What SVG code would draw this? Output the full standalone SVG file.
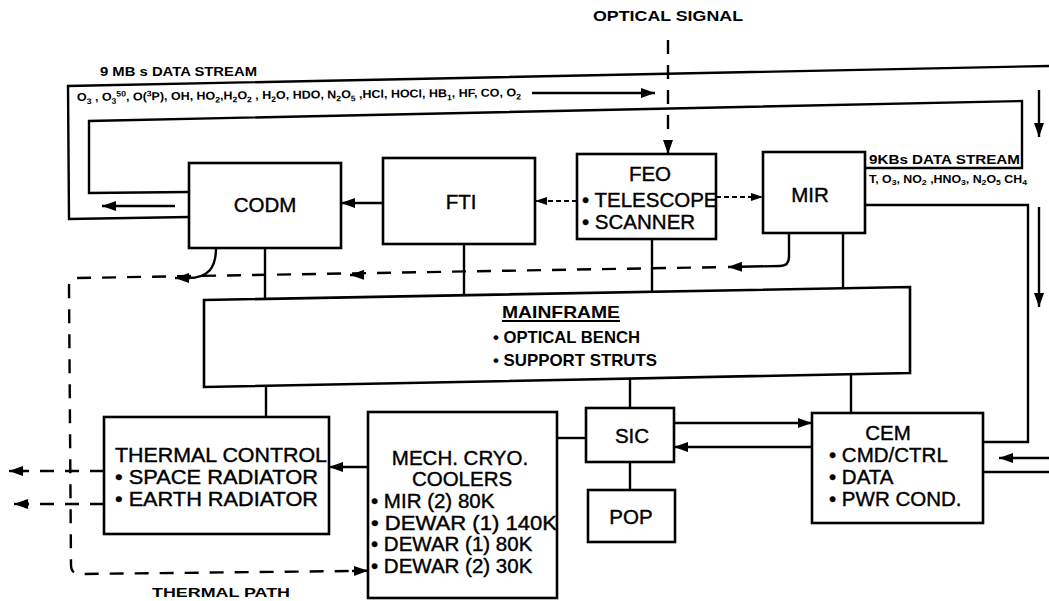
<svg xmlns="http://www.w3.org/2000/svg" width="1049" height="601" viewBox="0 0 1049 601">
<defs>
<marker id="ah" viewBox="0 0 14 10" refX="14" refY="5" markerWidth="14" markerHeight="10" markerUnits="userSpaceOnUse" orient="auto"><path d="M0,0 L14,5 L0,10 z" fill="#000"/></marker>
<marker id="ahs" viewBox="0 0 12 8" refX="12" refY="4" markerWidth="12" markerHeight="8" markerUnits="userSpaceOnUse" orient="auto"><path d="M0,0 L12,4 L0,8 z" fill="#000"/></marker>
</defs>
<style>
.bx{fill:#fff;stroke:#000;stroke-width:2.6}
.ln{fill:none;stroke:#000;stroke-width:2.4}
.ds{fill:none;stroke:#000;stroke-width:2.4;stroke-dasharray:14 11}
.dt{fill:none;stroke:#000;stroke-width:1.8;stroke-dasharray:5 3}
.t{font-family:"Liberation Sans",Arial,sans-serif;font-size:20.5px;fill:#000;stroke:#000;stroke-width:0.4}
.tb{font-family:"Liberation Sans",Arial,sans-serif;font-weight:bold;fill:#000}
.mid{text-anchor:middle}
</style>
<rect width="1049" height="601" fill="#fff"/>

<g id="connectors">
<!-- top data stream channel -->
<path class="ln" d="M189,217 L69,219 L68,86 L1049,66"/>
<path class="ln" d="M189,192 L89,193 L89,121 L1022,101 L1022,168 L865,168"/>
<path class="ln" d="M865,205 L1028,205 L1028,442 L983,442"/>
<path class="ln" d="M983,472 L1049,472"/>
<path class="ln" d="M175,206 L102,206" marker-end="url(#ah)"/>
<path class="ln" d="M532,93 L655,93" marker-end="url(#ah)"/>
<path class="ln" d="M1039,90 L1039,137" marker-end="url(#ah)"/>
<path class="ln" d="M1039,207 L1039,307" marker-end="url(#ah)"/>
<path class="ln" d="M1049,458 L999,458" marker-end="url(#ah)"/>
<!-- optical signal -->
<path class="ds" d="M668,40 L668,154" stroke-dasharray="15 11" marker-end="url(#ah)"/>
<!-- box to box -->
<path class="dt" d="M577,201 L535,201" marker-end="url(#ahs)"/>
<path class="dt" d="M716,197 L763,197" marker-end="url(#ahs)"/>
<path class="ln" d="M383,203 L341,203" marker-end="url(#ah)"/>
<path class="ln" d="M368,467 L329,467" marker-end="url(#ah)"/>
<path class="ln" d="M674,423 L812,423" marker-end="url(#ah)"/>
<path class="ln" d="M812,447 L674,447" marker-end="url(#ah)"/>
<!-- mainframe struts -->
<path class="ln" d="M265,248 L265,299"/>
<path class="ln" d="M464,244 L464,295"/>
<path class="ln" d="M652,239 L652,292"/>
<path class="ln" d="M843,233 L843,288"/>
<path class="ln" d="M266,386 L266,417"/>
<path class="ln" d="M630,379 L630,408"/>
<path class="ln" d="M851,374 L851,413"/>
<path class="ln" d="M557,438 L586,438"/>
<path class="ln" d="M630,462 L630,490"/>
<!-- thermal path -->
<path class="ln" d="M789,233 L789,257 Q789,266 780,266 L728,267" marker-end="url(#ah)"/>
<path class="ds" d="M716,267.2 L77,278 Q69,278 69,287 L71,565 Q71,574 80,574 L352,571"/>
<path class="ln" d="M364,274.8 L350,275" marker-end="url(#ah)"/>
<path class="ln" d="M352,571 L368,570.8" marker-end="url(#ah)"/>
<path class="ln" d="M216,248 C216,268 208,278 188,278" />
<path class="ln" d="M190,278 L175,278" marker-end="url(#ah)"/>
<path class="ds" d="M104,471 L22,471" stroke-dasharray="13 14"/>
<path class="ln" d="M24,471 L9,471" marker-end="url(#ah)"/>
<path class="ds" d="M104,504 L27,504" stroke-dasharray="13 14"/>
<path class="ln" d="M29,504 L14,504" marker-end="url(#ah)"/>
</g>

<g id="labels">
<text class="tb" x="593" y="21" font-size="14" textLength="150" lengthAdjust="spacingAndGlyphs">OPTICAL SIGNAL</text>
<text class="tb" x="100" y="76" font-size="13" textLength="157" lengthAdjust="spacingAndGlyphs">9 MB s DATA STREAM</text>
<text class="tb" x="77" y="101" font-size="11.5" textLength="444" lengthAdjust="spacingAndGlyphs" transform="rotate(-0.6 77 101)">O<tspan font-size="8" dy="3">3</tspan><tspan dy="-3"> , O</tspan><tspan font-size="8" dy="3">3</tspan><tspan font-size="8" dy="-7">50</tspan><tspan dy="4">, O(</tspan><tspan font-size="8" dy="-4">3</tspan><tspan dy="4">P), OH, HO</tspan><tspan font-size="8" dy="3">2</tspan><tspan dy="-3">,H</tspan><tspan font-size="8" dy="3">2</tspan><tspan dy="-3">O</tspan><tspan font-size="8" dy="3">2</tspan><tspan dy="-3"> , H</tspan><tspan font-size="8" dy="3">2</tspan><tspan dy="-3">O, HDO, N</tspan><tspan font-size="8" dy="3">2</tspan><tspan dy="-3">O</tspan><tspan font-size="8" dy="3">5</tspan><tspan dy="-3"> ,HCl, HOCl, HB</tspan><tspan font-size="8" dy="3">1</tspan><tspan dy="-3">, HF, CO, O</tspan><tspan font-size="8" dy="3">2</tspan></text>
<text class="tb" x="869" y="164" font-size="12" textLength="151" lengthAdjust="spacingAndGlyphs">9KBs DATA STREAM</text>
<text class="tb" x="869" y="183" font-size="10" textLength="158" lengthAdjust="spacingAndGlyphs">T, O<tspan font-size="7" dy="2">3</tspan><tspan dy="-2">, NO</tspan><tspan font-size="7" dy="2">2</tspan><tspan dy="-2"> ,HNO</tspan><tspan font-size="7" dy="2">3</tspan><tspan dy="-2">, N</tspan><tspan font-size="7" dy="2">2</tspan><tspan dy="-2">O</tspan><tspan font-size="7" dy="2">5</tspan><tspan dy="-2"> CH</tspan><tspan font-size="7" dy="2">4</tspan></text>
<text class="tb" x="152" y="597" font-size="13" textLength="138" lengthAdjust="spacingAndGlyphs">THERMAL PATH</text>
</g>

<g id="codm"><rect class="bx" x="189" y="163" width="152" height="85"/><text class="t mid" x="265" y="212">CODM</text></g>
<g id="fti"><rect class="bx" x="383" y="158" width="152" height="86"/><text class="t mid" x="461" y="209">FTI</text></g>
<g id="feo"><rect class="bx" x="577" y="154" width="139" height="85"/>
<text class="t mid" x="650" y="181">FEO</text>
<text class="t" x="582" y="207">• TELESCOPE</text>
<text class="t" x="582" y="229">• SCANNER</text></g>
<g id="mir"><rect class="bx" x="763" y="152" width="102" height="81"/><text class="t mid" x="810" y="202">MIR</text></g>
<g id="mainframe"><path class="bx" d="M204,300 L910,287 L910,373 L204,387 Z"/>
<text class="tb" x="502" y="318" font-size="17" textLength="118" lengthAdjust="spacingAndGlyphs">MAINFRAME</text>
<line x1="502" y1="321" x2="620" y2="321" stroke="#000" stroke-width="1.8"/>
<text class="tb" x="493" y="343" font-size="17" textLength="147" lengthAdjust="spacingAndGlyphs">• OPTICAL BENCH</text>
<text class="tb" x="493" y="366" font-size="17" textLength="164" lengthAdjust="spacingAndGlyphs">• SUPPORT STRUTS</text></g>
<g id="thermal-control"><rect class="bx" x="104" y="417" width="225" height="117"/>
<text class="t" x="115" y="462" textLength="212" lengthAdjust="spacingAndGlyphs">THERMAL CONTROL</text>
<text class="t" x="115" y="484" textLength="203" lengthAdjust="spacingAndGlyphs">• SPACE RADIATOR</text>
<text class="t" x="115" y="506" textLength="203" lengthAdjust="spacingAndGlyphs">• EARTH RADIATOR</text></g>
<g id="mech-cryo"><rect class="bx" x="368" y="412" width="189" height="186"/>
<text class="t mid" x="460" y="465">MECH. CRYO.</text>
<text class="t mid" x="462" y="486">COOLERS</text>
<text class="t" x="371" y="508">• MIR (2) 80K</text>
<text class="t" x="371" y="530" textLength="186" lengthAdjust="spacingAndGlyphs">• DEWAR (1) 140K</text>
<text class="t" x="371" y="551">• DEWAR (1) 80K</text>
<text class="t" x="371" y="573">• DEWAR (2) 30K</text></g>
<g id="sic"><rect class="bx" x="586" y="408" width="88" height="54"/><text class="t mid" x="632" y="443">SIC</text></g>
<g id="pop"><rect class="bx" x="588" y="490" width="87" height="52"/><text class="t mid" x="631" y="524">POP</text></g>
<g id="cem"><rect class="bx" x="812" y="413" width="171" height="110"/>
<text class="t mid" x="888" y="440">CEM</text>
<text class="t" x="829" y="462">• CMD/CTRL</text>
<text class="t" x="829" y="484">• DATA</text>
<text class="t" x="829" y="506">• PWR COND.</text></g>
</svg>
